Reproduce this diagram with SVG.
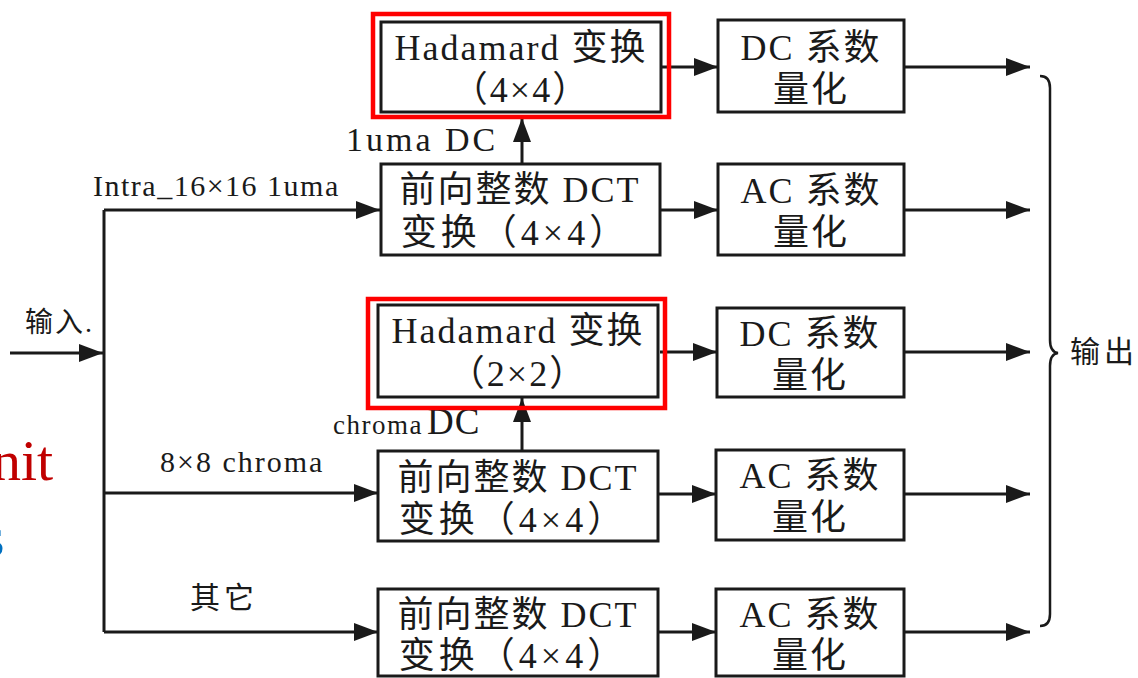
<svg xmlns="http://www.w3.org/2000/svg" width="1138" height="678" viewBox="0 0 1138 678">
<style>
.box{fill:#fff;stroke:#1a1a1a;stroke-width:3}
.hl{fill:none;stroke:#ff0000;stroke-width:4.5}
.t{font-family:"Liberation Serif","Noto Sans CJK SC",serif;font-size:36px;fill:#1a1a1a;text-anchor:middle;letter-spacing:2px}
.t2{letter-spacing:4px}
.lbl{font-family:"Liberation Serif","Noto Sans CJK SC",serif;fill:#1a1a1a}
.ln{fill:none;stroke:#1a1a1a;stroke-width:3}
</style>
<defs>
<marker id="ah" viewBox="0 0 24 18" refX="24" refY="9" markerWidth="24" markerHeight="18" markerUnits="userSpaceOnUse" orient="auto">
<path d="M0,0 L24,9 L0,18 Z" fill="#1a1a1a"/>
</marker>
</defs>
<rect width="1138" height="678" fill="#fff"/>
<text x="-8" y="480" style="font-family:'Liberation Serif',serif;font-size:58px;fill:#c00000">nit</text>
<text x="-18" y="556" style="font-family:'Liberation Serif',serif;font-size:58px;fill:#0070c0">s</text>
<g id="connectors">
<path class="ln" d="M10,353 H103" marker-end="url(#ah)"/>
<path class="ln" d="M104,210 V632"/>
<path class="ln" d="M104,210 H380" marker-end="url(#ah)"/>
<path class="ln" d="M104,493 H378" marker-end="url(#ah)"/>
<path class="ln" d="M104,632 H378" marker-end="url(#ah)"/>
<path class="ln" d="M522,164 V118" marker-end="url(#ah)"/>
<path class="ln" d="M522,451 V398" marker-end="url(#ah)"/>
<path class="ln" d="M662,67 H718" marker-end="url(#ah)"/>
<path class="ln" d="M660,210 H718" marker-end="url(#ah)"/>
<path class="ln" d="M660,352 H717" marker-end="url(#ah)"/>
<path class="ln" d="M659,494 H716" marker-end="url(#ah)"/>
<path class="ln" d="M659,632 H716" marker-end="url(#ah)"/>
<path class="ln" d="M904,67 H1030" marker-end="url(#ah)"/>
<path class="ln" d="M904,210 H1030" marker-end="url(#ah)"/>
<path class="ln" d="M904,352 H1030" marker-end="url(#ah)"/>
<path class="ln" d="M904,494 H1030" marker-end="url(#ah)"/>
<path class="ln" d="M904,632 H1030" marker-end="url(#ah)"/>
<path fill="none" stroke="#1a1a1a" stroke-width="2.5" d="M1040,76 Q1050,76 1050,88 V340 Q1050,352 1058,353 Q1050,354 1050,366 V614 Q1050,626 1040,626"/>
<text class="lbl" x="25" y="332" style="font-size:28px;letter-spacing:2px">输入.</text>
<text class="lbl" x="93" y="196" style="font-size:30px;letter-spacing:1.5px">Intra_16×16 1uma</text>
<text class="lbl" x="346" y="151" style="font-size:34px;letter-spacing:3px">1uma DC</text>
<text class="lbl" x="333" y="434" style="font-size:27px;letter-spacing:1.5px">chroma<tspan dx="4" style="font-size:37px;letter-spacing:1px">DC</tspan></text>
<text class="lbl" x="160" y="472" style="font-size:30px;letter-spacing:2px">8×8 chroma</text>
<text class="lbl" x="190" y="608" style="font-size:30px;letter-spacing:4px">其它</text>
<text class="lbl" x="1070" y="362" style="font-size:30px;letter-spacing:4px">输出</text>
</g>
<g id="hadamard44">
<rect class="box" x="381" y="22" width="280" height="90"/>
<rect class="hl" x="373" y="14" width="296" height="103"/>
<text class="t" x="521" y="60">Hadamard 变换</text>
<text class="t" x="521" y="102">（4×4）</text>
</g>
<g id="dct1">
<rect class="box" x="381" y="164" width="279" height="91"/>
<text class="t" x="520" y="202">前向整数 DCT</text>
<text class="t t2" x="515" y="245">变换（4×4）</text>
</g>
<g id="hadamard22">
<rect class="box" x="378" y="305" width="280" height="92"/>
<rect class="hl" x="368" y="299" width="297" height="109"/>
<text class="t" x="518" y="343">Hadamard 变换</text>
<text class="t" x="518" y="386">（2×2）</text>
</g>
<g id="dct2">
<rect class="box" x="378" y="451" width="280" height="90"/>
<text class="t" x="518" y="490">前向整数 DCT</text>
<text class="t t2" x="513" y="532">变换（4×4）</text>
</g>
<g id="dct3">
<rect class="box" x="378" y="589" width="280" height="87"/>
<text class="t" x="518" y="627">前向整数 DCT</text>
<text class="t t2" x="513" y="668">变换（4×4）</text>
</g>
<g id="dcq1">
<rect class="box" x="718" y="20" width="186" height="92"/>
<text class="t" x="811" y="60">DC 系数</text>
<text class="t" x="811" y="102">量化</text>
</g>
<g id="acq1">
<rect class="box" x="718" y="164" width="186" height="91"/>
<text class="t" x="811" y="203">AC 系数</text>
<text class="t" x="811" y="245">量化</text>
</g>
<g id="dcq2">
<rect class="box" x="717" y="308" width="187" height="89"/>
<text class="t" x="810" y="346">DC 系数</text>
<text class="t" x="810" y="388">量化</text>
</g>
<g id="acq2">
<rect class="box" x="716" y="450" width="188" height="90"/>
<text class="t" x="810" y="488">AC 系数</text>
<text class="t" x="810" y="530">量化</text>
</g>
<g id="acq3">
<rect class="box" x="716" y="589" width="188" height="87"/>
<text class="t" x="810" y="627">AC 系数</text>
<text class="t" x="810" y="668">量化</text>
</g>
</svg>
